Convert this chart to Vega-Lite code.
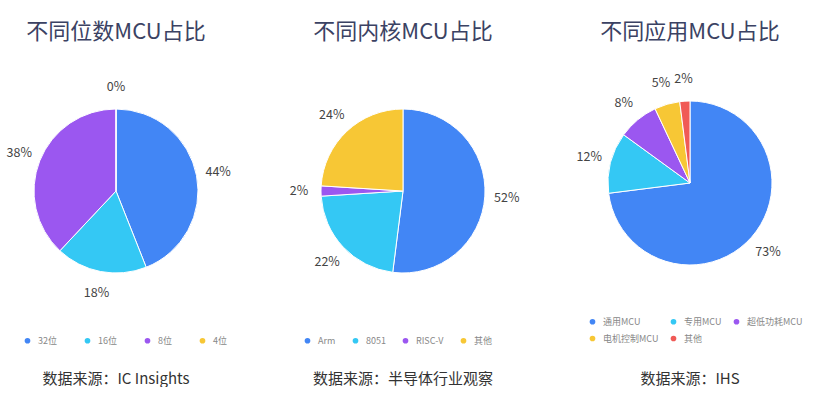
{
  "$schema": "https://vega.github.io/schema/vega-lite/v6.json",
  "padding": 0,
  "spacing": 0,
  "bounds": "flush",
  "background": "white",
  "config": {
    "view": {"stroke": null},
    "font": "Noto Sans CJK SC",
    "legend": {
      "labelFont": "Noto Sans CJK SC",
      "labelFontSize": 9,
      "labelColor": "#888888",
      "symbolType": "circle",
      "symbolSize": 32,
      "symbolStrokeWidth": 0,
      "labelOffset": 6,
      "columnPadding": 20,
      "rowPadding": 7,
      "orient": "none",
      "direction": "horizontal",
      "title": null
    }
  },
  "resolve": {"scale": {"color": "independent"}, "legend": {"color": "independent"}},
  "hconcat": [
    {
      "width": 232,
      "height": 382,
      "layer": [
        {
          "data": {"values": [
            {"cat": "32位", "v": 44, "p": 0.44, "i": 1},
            {"cat": "16位", "v": 18, "p": 0.18, "i": 2},
            {"cat": "8位", "v": 38, "p": 0.38, "i": 3},
            {"cat": "4位", "v": 0, "p": 0.0, "i": 4}
          ]},
          "layer": [
            {
              "mark": {"type": "arc", "outerRadius": 82, "stroke": "white", "strokeWidth": 1},
              "encoding": {
                "theta": {"field": "v", "type": "quantitative", "stack": true},
                "order": {"field": "i", "type": "quantitative"},
                "color": {
                  "field": "cat", "type": "nominal",
                  "scale": {"domain": ["32位", "16位", "8位", "4位"], "range": ["#4286f5", "#34c8f4", "#9b57f0", "#f7c735"]},
                  "sort": null,
                  "legend": {"legendX": 23, "legendY": 336, "columnPadding": 26}
                }
              }
            },
            {
              "mark": {"type": "text", "radius": 104, "fontSize": 12.5, "fill": "#444444", "font": "Noto Sans CJK SC"},
              "encoding": {
                "theta": {"field": "v", "type": "quantitative", "stack": true},
                "order": {"field": "i", "type": "quantitative"},
                "detail": {"field": "cat", "type": "nominal"},
                "text": {"field": "p", "type": "quantitative", "format": ".0%"}
              }
            }
          ]
        },
        {
          "data": {"values": [{"t": "不同位数MCU占比"}]},
          "mark": {"type": "text", "fontSize": 22, "fill": "#3b4263", "baseline": "middle", "align": "center"},
          "encoding": {"text": {"field": "t"}, "x": {"value": 116}, "y": {"value": 32}}
        },
        {
          "data": {"values": [{"t": "数据来源：IC Insights"}]},
          "mark": {"type": "text", "fontSize": 15, "fill": "#333333", "baseline": "middle", "align": "center"},
          "encoding": {"text": {"field": "t"}, "x": {"value": 116}, "y": {"value": 379}}
        }
      ]
    },
    {
      "width": 342,
      "height": 382,
      "layer": [
        {
          "data": {"values": [
            {"cat": "Arm", "v": 52, "p": 0.52, "i": 1},
            {"cat": "8051", "v": 22, "p": 0.22, "i": 2},
            {"cat": "RISC-V", "v": 2, "p": 0.02, "i": 3},
            {"cat": "其他", "v": 24, "p": 0.24, "i": 4}
          ]},
          "layer": [
            {
              "mark": {"type": "arc", "outerRadius": 82, "stroke": "white", "strokeWidth": 1},
              "encoding": {
                "theta": {"field": "v", "type": "quantitative", "stack": true},
                "order": {"field": "i", "type": "quantitative"},
                "color": {
                  "field": "cat", "type": "nominal",
                  "scale": {"domain": ["Arm", "8051", "RISC-V", "其他"], "range": ["#4286f5", "#34c8f4", "#9b57f0", "#f7c735"]},
                  "sort": null,
                  "legend": {"legendX": 71, "legendY": 336, "columnPadding": 15}
                }
              }
            },
            {
              "mark": {"type": "text", "radius": 104, "fontSize": 12.5, "fill": "#444444", "font": "Noto Sans CJK SC"},
              "encoding": {
                "theta": {"field": "v", "type": "quantitative", "stack": true},
                "order": {"field": "i", "type": "quantitative"},
                "detail": {"field": "cat", "type": "nominal"},
                "text": {"field": "p", "type": "quantitative", "format": ".0%"}
              }
            }
          ]
        },
        {
          "data": {"values": [{"t": "不同内核MCU占比"}]},
          "mark": {"type": "text", "fontSize": 22, "fill": "#3b4263", "baseline": "middle", "align": "center"},
          "encoding": {"text": {"field": "t"}, "x": {"value": 171}, "y": {"value": 32}}
        },
        {
          "data": {"values": [{"t": "数据来源：半导体行业观察"}]},
          "mark": {"type": "text", "fontSize": 15, "fill": "#333333", "baseline": "middle", "align": "center"},
          "encoding": {"text": {"field": "t"}, "x": {"value": 171}, "y": {"value": 379}}
        }
      ]
    },
    {
      "width": 232,
      "height": 366,
      "layer": [
        {
          "data": {"values": [
            {"cat": "通用MCU", "v": 73, "p": 0.73, "i": 1},
            {"cat": "专用MCU", "v": 12, "p": 0.12, "i": 2},
            {"cat": "超低功耗MCU", "v": 8, "p": 0.08, "i": 3},
            {"cat": "电机控制MCU", "v": 5, "p": 0.05, "i": 4},
            {"cat": "其他", "v": 2, "p": 0.02, "i": 5}
          ]},
          "layer": [
            {
              "mark": {"type": "arc", "outerRadius": 82, "stroke": "white", "strokeWidth": 1},
              "encoding": {
                "theta": {"field": "v", "type": "quantitative", "stack": true},
                "order": {"field": "i", "type": "quantitative"},
                "color": {
                  "field": "cat", "type": "nominal",
                  "scale": {"domain": ["通用MCU", "专用MCU", "超低功耗MCU", "电机控制MCU", "其他"], "range": ["#4286f5", "#34c8f4", "#9b57f0", "#f7c735", "#f05a56"]},
                  "sort": null,
                  "legend": {"legendX": 14, "legendY": 317, "columns": 3, "columnPadding": 10}
                }
              }
            },
            {
              "mark": {"type": "text", "radius": 104, "fontSize": 12.5, "fill": "#444444", "font": "Noto Sans CJK SC"},
              "encoding": {
                "theta": {"field": "v", "type": "quantitative", "stack": true},
                "order": {"field": "i", "type": "quantitative"},
                "detail": {"field": "cat", "type": "nominal"},
                "text": {"field": "p", "type": "quantitative", "format": ".0%"}
              }
            }
          ]
        },
        {
          "data": {"values": [{"t": "不同应用MCU占比"}]},
          "mark": {"type": "text", "fontSize": 22, "fill": "#3b4263", "baseline": "middle", "align": "center"},
          "encoding": {"text": {"field": "t"}, "x": {"value": 116}, "y": {"value": 32}}
        },
        {
          "data": {"values": [{"t": "数据来源：IHS"}]},
          "mark": {"type": "text", "fontSize": 15, "fill": "#333333", "baseline": "middle", "align": "center"},
          "encoding": {"text": {"field": "t"}, "x": {"value": 116}, "y": {"value": 379}}
        }
      ]
    }
  ]
}
